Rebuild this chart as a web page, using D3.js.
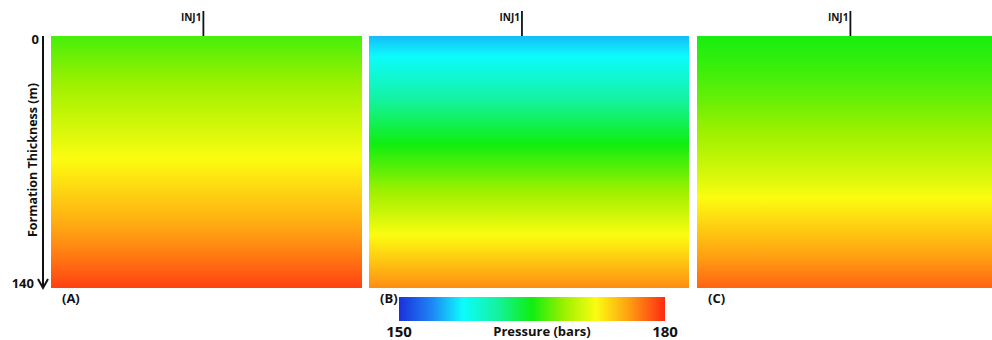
<!DOCTYPE html>
<html>
<head>
<meta charset="utf-8">
<script src="https://cdn.jsdelivr.net/npm/d3@7"></script>
<style>
  html, body { margin: 0; padding: 0; background: #fff; }
  svg { display: block; }
  text { font-family: "Open Sans", "DejaVu Sans", sans-serif; font-weight: bold; fill: #111; }
</style>
</head>
<body>
<svg id="chart" width="992" height="340"></svg>
<script>
// ---------------- DATA ----------------
const depths = [0, 20, 40, 60, 80, 100, 120, 140];          // formation thickness (m)
const pressureA = [166.4, 168.1, 169.8, 171.5, 173.2, 175.0, 177.0, 179.2];
const pressureB = [155.3, 158.6, 161.8, 165.0, 167.8, 170.6, 173.6, 176.6];
const pressureC = [165.2, 166.2, 167.6, 169.2, 171.1, 173.3, 175.6, 178.0];
const panelLabels = ["(A)", "(B)", "(C)"];
const wellLabels = ["INJ1", "INJ1", "INJ1"];
const wellFrac = [0.49, 0.478, 0.52];                          // injector location across each section
const depthTicks = [0, 140];
const depthTitle = "Formation Thickness (m)";
const pressureDomain = [150, 180];
const colorbarTicks = [150, 180];
const colorbarTitle = "Pressure (bars)";
// colormap stops (pressure -> colour)
const cmapValues = [150, 153.6, 157.2, 161.1, 165, 168.6, 172.2, 176.1, 180];
const cmapColors = ["#1a30dc", "#1e82f5", "#0cfcfc", "#14f2a0", "#10ee10", "#9cf000", "#fcfc10", "#ff9a12", "#ff2a12"];

// ---------------- LAYOUT ----------------
const svg = d3.select("#chart");
const panels = [
  { x0: 51, x1: 362, p: pressureA },
  { x0: 369, x1: 689, p: pressureB },
  { x0: 697, x1: 992, p: pressureC }
];
const yTop = 36, yBot = 288;
const y = d3.scaleLinear().domain([depths[0], depths[depths.length - 1]]).range([yTop, yBot]);
const color = d3.scaleLinear().domain(cmapValues).range(cmapColors).interpolate(d3.interpolateRgb).clamp(true);

const defs = svg.append("defs");

panels.forEach((pan, i) => {
  const interp = d3.scaleLinear().domain(depths).range(pan.p);
  const gid = "grad" + i;
  const g = defs.append("linearGradient").attr("id", gid)
    .attr("gradientUnits", "userSpaceOnUse")
    .attr("x1", 0).attr("x2", 0).attr("y1", y(0)).attr("y2", y(140));
  const samples = d3.range(0, 140.001, 1);
  g.selectAll("stop").data(samples).join("stop")
    .attr("offset", d => (d / 140))
    .attr("stop-color", d => color(interp(d)));

  svg.append("rect")
    .attr("x", pan.x0).attr("y", y(0))
    .attr("width", pan.x1 - pan.x0).attr("height", y(140) - y(0))
    .attr("fill", `url(#${gid})`);

  // injector well marker
  const xs = d3.scaleLinear().domain([0, 1]).range([pan.x0, pan.x1]);
  const wx = xs(wellFrac[i]);
  svg.append("line").attr("x1", wx).attr("x2", wx).attr("y1", 11).attr("y2", y(0))
    .attr("stroke", "#111").attr("stroke-width", 1.8);
  svg.append("text").attr("x", wx - 2).attr("y", 21).attr("text-anchor", "end")
    .attr("font-size", 10).text(wellLabels[i]);

  // panel label
  svg.append("text").attr("x", pan.x0 + 11).attr("y", 303)
    .attr("font-size", 13).text(panelLabels[i]);
});

// ---------------- DEPTH AXIS ----------------
const ax = 43;
svg.append("line").attr("x1", ax).attr("x2", ax).attr("y1", y(0)).attr("y2", y(140) - 1)
  .attr("stroke", "#111").attr("stroke-width", 2);
svg.append("path")
  .attr("d", `M${ax - 5},${y(140) - 9} L${ax},${y(140)} L${ax + 5},${y(140) - 9}`)
  .attr("fill", "none").attr("stroke", "#111").attr("stroke-width", 2);
svg.selectAll(".dtick").data(depthTicks).join("text")
  .attr("class", "dtick")
  .attr("x", d => d === 0 ? 39 : 34)
  .attr("y", d => y(d) + (d === 0 ? 8 : 0))
  .attr("text-anchor", "end").attr("font-size", 13)
  .text(d => d);
svg.append("text")
  .attr("transform", `translate(37,${(yTop + yBot) / 2 - 2}) rotate(-90)`)
  .attr("text-anchor", "middle").attr("font-size", 12.5)
  .text(depthTitle);

// ---------------- COLOR BAR ----------------
const cb = { x0: 399, x1: 665, y0: 297, y1: 321 };
const cx = d3.scaleLinear().domain(pressureDomain).range([cb.x0, cb.x1]);
const cg = defs.append("linearGradient").attr("id", "cbgrad")
  .attr("x1", 0).attr("x2", 1).attr("y1", 0).attr("y2", 0);
cg.selectAll("stop").data(cmapValues).join("stop")
  .attr("offset", d => (d - pressureDomain[0]) / (pressureDomain[1] - pressureDomain[0]))
  .attr("stop-color", d => color(d));
svg.append("rect").attr("x", cb.x0).attr("y", cb.y0)
  .attr("width", cb.x1 - cb.x0).attr("height", cb.y1 - cb.y0)
  .attr("fill", "url(#cbgrad)");
svg.selectAll(".ctick").data(colorbarTicks).join("text")
  .attr("class", "ctick")
  .attr("x", d => cx(d)).attr("y", 337)
  .attr("text-anchor", "middle").attr("font-size", 15)
  .text(d => d);
svg.append("text").attr("x", 542).attr("y", 336)
  .attr("text-anchor", "middle").attr("font-size", 13)
  .text(colorbarTitle);
</script>
</body>
</html>
